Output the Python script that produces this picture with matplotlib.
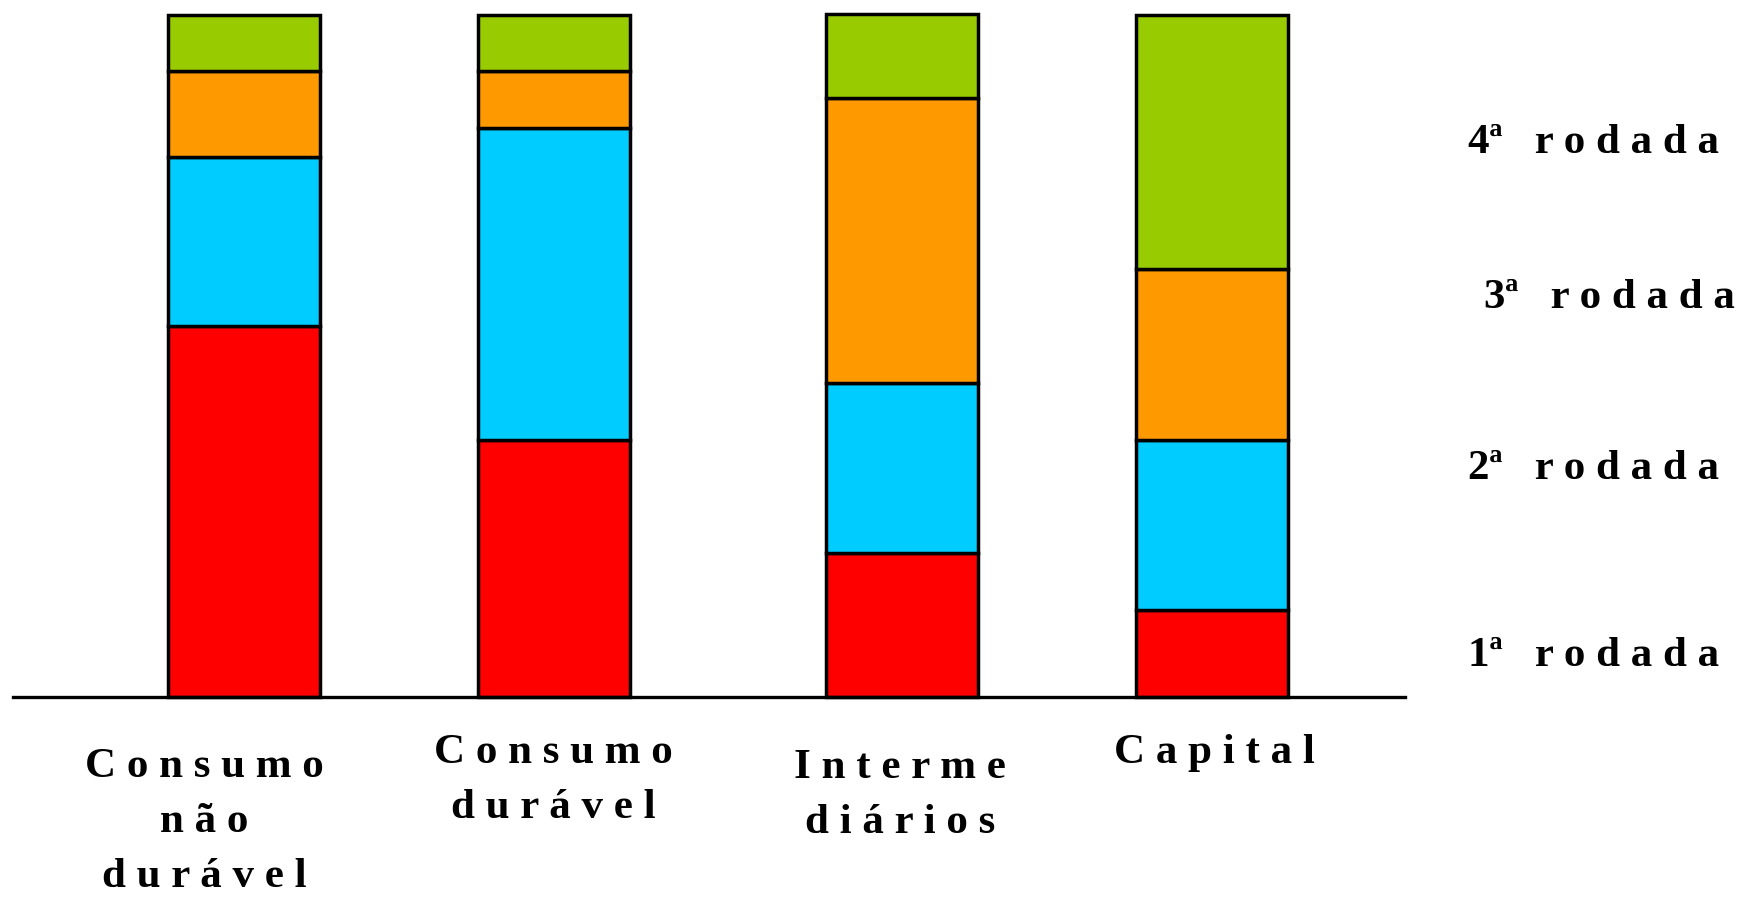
import matplotlib
matplotlib.use("Agg")
import matplotlib.pyplot as plt

# Data (percent shares per round)
categories = ["Consumo não durável", "Consumo durável", "Intermediários", "Capital"]
rounds = ["1ª rodada", "2ª rodada", "3ª rodada", "4ª rodada"]
r1 = [54.4, 37.7, 21.1, 12.7]
r2 = [24.8, 45.8, 25.0, 25.0]
r3 = [12.6, 8.3, 41.7, 25.0]
r4 = [8.2, 8.2, 12.3, 37.3]
series = [r1, r2, r3, r4]
colors = ["#FF0000", "#00CCFF", "#FF9900", "#99CC00"]

W, H = 1746, 899
fig = plt.figure(figsize=(W / 100, H / 100), dpi=100)

# axes in pixel layout
ax_left, ax_right, ax_bottom, ax_top = 13, 1405, 697, 15
ax = fig.add_axes([ax_left / W, (H - ax_bottom) / H,
                   (ax_right - ax_left) / W, (ax_bottom - ax_top) / H])
ax.set_xlim(0, ax_right - ax_left)
ax.set_ylim(0, 100)

positions = [243.5 - ax_left, 553.5 - ax_left, 901.5 - ax_left, 1212 - ax_left]
bar_w = 152

bottom = [0, 0, 0, 0]
for vals, c in zip(series, colors):
    ax.bar(positions, vals, width=bar_w, bottom=bottom, color=c,
           edgecolor="black", linewidth=2.5, zorder=3, clip_on=False)
    bottom = [b + v for b, v in zip(bottom, vals)]

for s in ["top", "left", "right"]:
    ax.spines[s].set_visible(False)
ax.spines["bottom"].set_linewidth(2.4)
ax.spines["bottom"].set_zorder(4)
ax.set_xticks([])
ax.set_yticks([])

font = dict(family="Liberation Serif", fontweight="bold", fontsize=31, color="black")

def spaced(s):
    return " ".join(list(s))

def ftext(x, y, s, **kw):
    fig.text(x / W, 1 - y / H, s, ha="center", va="center", **font, **kw)

# right-side round labels
round_y = [656, 469, 298, 143]
round_x = [1468, 1468, 1484, 1468]
for lab, x, y in zip(rounds, round_x, round_y):
    num, word = lab.split(" ")
    fig.text(x / W, 1 - y / H, num + "   " + spaced(word), ha="left", va="center", **font)

# category labels
cat_lines = [["Consumo", "não", "durável"], ["Consumo", "durável"], ["Interme", "diários"], ["Capital"]]
cat_x = [204, 553, 900, 1214]
cat_y0 = [767, 753, 768, 753]
line_gap = 55
for lines, x, y0 in zip(cat_lines, cat_x, cat_y0):
    for i, ln in enumerate(lines):
        ftext(x, y0 + i * line_gap, spaced(ln))

fig.savefig("out.png", dpi=100, facecolor="white")
